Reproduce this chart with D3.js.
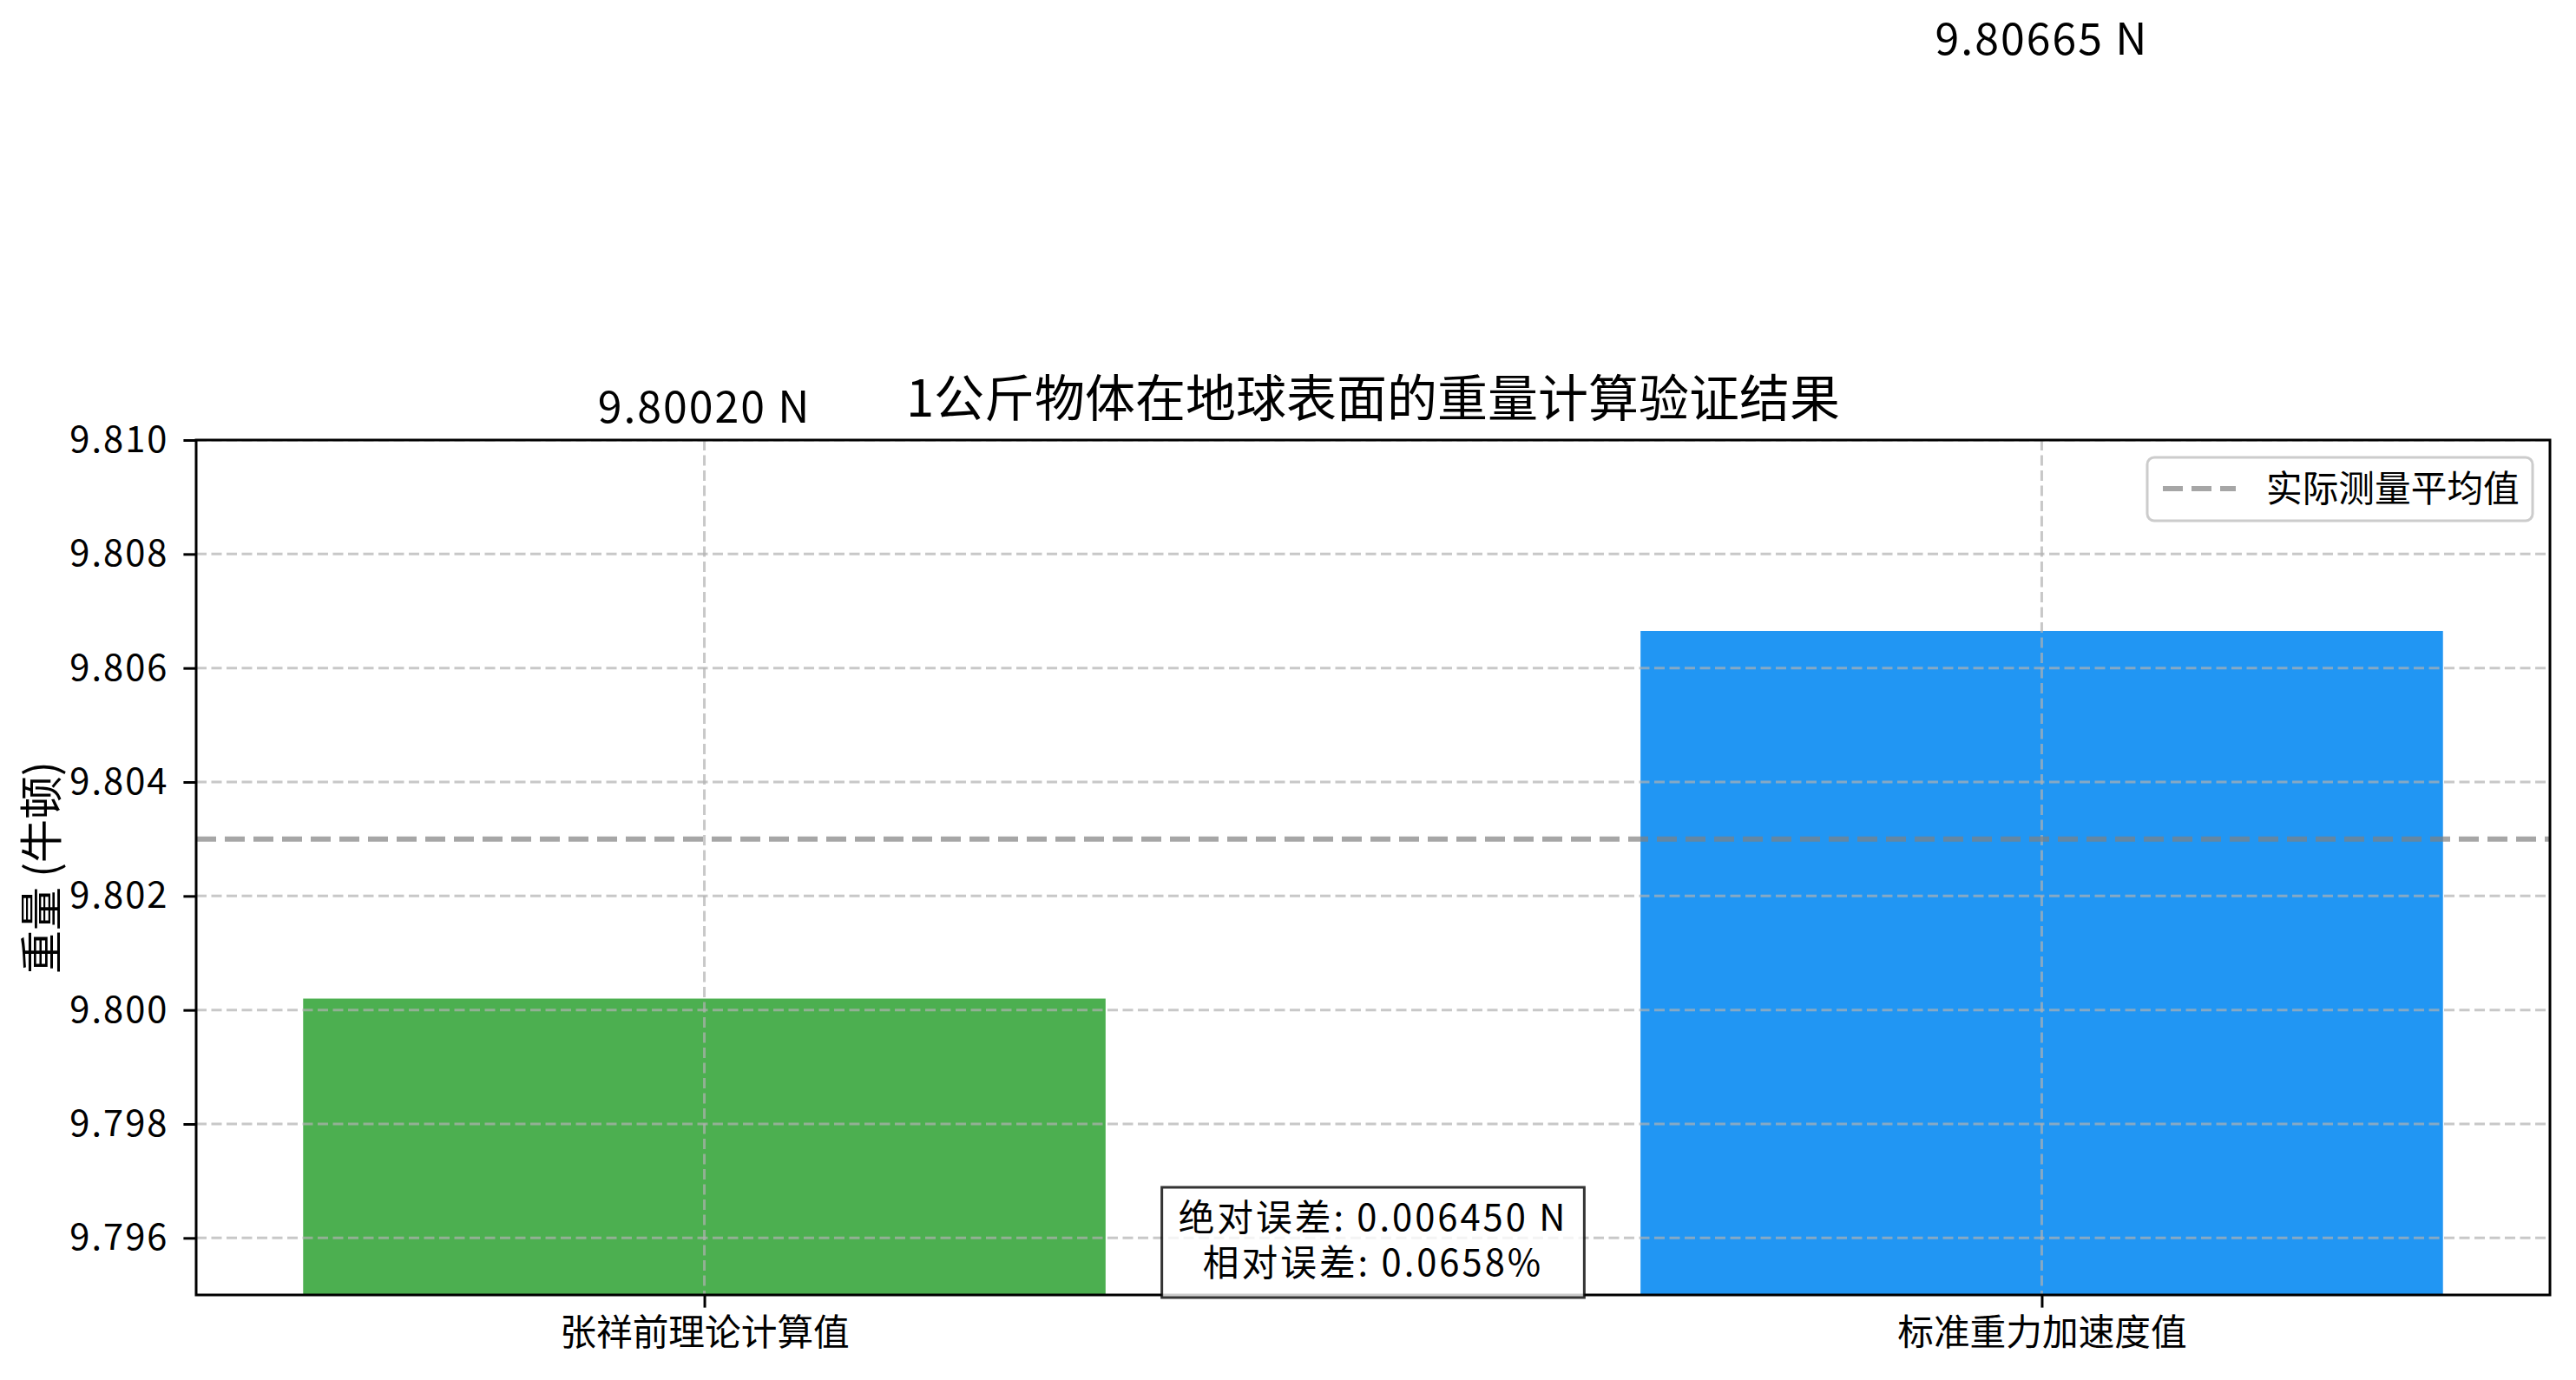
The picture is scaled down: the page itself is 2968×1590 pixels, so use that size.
<!DOCTYPE html>
<html>
<head>
<meta charset="utf-8">
<script src="https://cdn.jsdelivr.net/npm/d3@7"></script>
<style>
  body { margin: 0; background: #fff; }
  text { font-family: "Noto Sans CJK SC", "Noto Sans", sans-serif; fill: #000; }
</style>
</head>
<body>
<script>
//Data
var categories = ["张祥前理论计算值", "标准重力加速度值"];
var values = [9.80020, 9.80665];
var barColors = ["#4CAF50", "#2196F3"];
var measuredMean = 9.8030;
var yTicks = [9.796, 9.798, 9.800, 9.802, 9.804, 9.806, 9.808, 9.810];
var titleText = "1公斤物体在地球表面的重量计算验证结果";
var yLabelText = "重量 (牛顿)";
var legendLabel = "实际测量平均值";

//Size (plot box edges)
var w = 2968, h = 1590;
var pLeft = 226, pRight = 2938, pTop = 507, pBottom = 1492;

var svg = d3.select("body").append("svg")
    .attr("width", w)
    .attr("height", h);

var xScale = d3.scaleLinear().domain([-0.38, 1.38]).range([pLeft, pRight]);
var yScale = d3.scaleLinear().domain([9.795, 9.810]).range([pBottom, pTop]);

svg.append("clipPath").attr("id", "plotclip")
    .append("rect")
    .attr("x", pLeft).attr("y", pTop)
    .attr("width", pRight - pLeft).attr("height", pBottom - pTop);

var plot = svg.append("g").attr("clip-path", "url(#plotclip)");

//Bars
plot.selectAll("rect.bar")
    .data(values)
    .enter()
    .append("rect")
    .attr("class", "bar")
    .attr("x", function(d, i) { return xScale(i - 0.3); })
    .attr("width", function(d, i) { return xScale(i + 0.3) - xScale(i - 0.3); })
    .attr("y", function(d) { return yScale(d); })
    .attr("height", function(d) { return pBottom - yScale(d); })
    .attr("fill", function(d, i) { return barColors[i]; });

//Grid (drawn over bars)
plot.selectAll("line.hgrid")
    .data(yTicks)
    .enter()
    .append("line")
    .attr("x1", pLeft).attr("x2", pRight)
    .attr("y1", function(d) { return yScale(d); })
    .attr("y2", function(d) { return yScale(d); })
    .attr("stroke", "#b0b0b0").attr("stroke-opacity", 0.7)
    .attr("stroke-width", 3).attr("stroke-dasharray", "12,5.5");

plot.selectAll("line.vgrid")
    .data(categories)
    .enter()
    .append("line")
    .attr("x1", function(d, i) { return xScale(i); })
    .attr("x2", function(d, i) { return xScale(i); })
    .attr("y1", pTop).attr("y2", pBottom)
    .attr("stroke", "#b0b0b0").attr("stroke-opacity", 0.7)
    .attr("stroke-width", 3).attr("stroke-dasharray", "12,5.5");

//Mean line
plot.append("line")
    .attr("x1", pLeft).attr("x2", pRight)
    .attr("y1", yScale(measuredMean)).attr("y2", yScale(measuredMean))
    .attr("stroke", "#808080").attr("stroke-opacity", 0.7)
    .attr("stroke-width", 6).attr("stroke-dasharray", "23,10");

//Axes
var yAxis = d3.axisLeft(yScale)
    .tickValues(yTicks)
    .tickFormat(d3.format(".3f"))
    .tickSizeInner(14.6).tickSizeOuter(0).tickPadding(17);

var xAxis = d3.axisBottom(xScale)
    .tickValues([0, 1])
    .tickFormat(function(d) { return categories[d]; })
    .tickSizeInner(14.6).tickSizeOuter(0).tickPadding(14);

var gy = svg.append("g").attr("transform", "translate(" + pLeft + ",0)").call(yAxis);
var gx = svg.append("g").attr("transform", "translate(0," + pBottom + ")").call(xAxis);

[gx, gy].forEach(function(g) {
    g.select(".domain").remove();
    g.selectAll(".tick line").attr("stroke", "#000").attr("stroke-width", 3);
    g.selectAll(".tick text").attr("font-size", 41.7).attr("fill", "#000")
        .style("font-family", "'Noto Sans CJK SC', sans-serif");
});
gy.selectAll(".tick text").attr("letter-spacing", 2);

//Spines
svg.append("rect")
    .attr("x", pLeft).attr("y", pTop)
    .attr("width", pRight - pLeft).attr("height", pBottom - pTop)
    .attr("fill", "none").attr("stroke", "#000").attr("stroke-width", 3);

//Value labels
svg.selectAll("text.vlabel")
    .data(values)
    .enter()
    .append("text")
    .attr("class", "vlabel")
    .attr("x", function(d, i) { return xScale(i); })
    .attr("y", function(d) { return yScale(d + 0.01) - 7; })
    .attr("text-anchor", "middle")
    .attr("font-size", 50)
    .attr("letter-spacing", 2)
    .text(function(d) { return d.toFixed(5) + " N"; });

//Title
svg.append("text")
    .attr("x", (pLeft + pRight) / 2)
    .attr("y", 480)
    .attr("text-anchor", "middle")
    .attr("font-size", 58)
    .text(titleText);

//Y label
svg.append("text")
    .attr("transform", "translate(66," + ((pTop + pBottom) / 2) + ") rotate(-90)")
    .attr("text-anchor", "middle")
    .attr("font-size", 50)
    .text(yLabelText);

//Legend
var lg = svg.append("g");
lg.append("rect")
    .attr("x", 2474).attr("y", 527)
    .attr("width", 444).attr("height", 73)
    .attr("rx", 8).attr("ry", 8)
    .attr("fill", "#fff").attr("fill-opacity", 0.8)
    .attr("stroke", "#cccccc").attr("stroke-width", 3);
lg.append("line")
    .attr("x1", 2492).attr("x2", 2576)
    .attr("y1", 563).attr("y2", 563)
    .attr("stroke", "#808080").attr("stroke-opacity", 0.7)
    .attr("stroke-width", 6).attr("stroke-dasharray", "23,10");
lg.append("text")
    .attr("x", 2611).attr("y", 578)
    .attr("font-size", 41.7)
    .text(legendLabel);

//Error annotation
var absErr = Math.abs(values[1] - values[0]);
var relErr = absErr / values[1] * 100;
var lines = ["绝对误差: " + absErr.toFixed(6) + " N", "相对误差: " + relErr.toFixed(4) + "%"];

var cx = (pLeft + pRight) / 2;
var ann = svg.append("g");
var annBox = ann.append("rect");
var annText = ann.append("text")
    .attr("text-anchor", "middle")
    .attr("font-size", 41.7)
    .attr("letter-spacing", 3);
annText.selectAll("tspan")
    .data(lines)
    .enter()
    .append("tspan")
    .attr("x", cx)
    .attr("y", function(d, i) { return 1418 + i * 52; })
    .text(function(d) { return d; });

var bw = annText.node().getBBox().width + 38;
annBox
    .attr("x", cx - bw / 2).attr("y", 1368)
    .attr("width", bw).attr("height", 127)
    .attr("fill", "#fff").attr("fill-opacity", 0.8)
    .attr("stroke", "#000").attr("stroke-opacity", 0.8).attr("stroke-width", 3);
</script>
</body>
</html>
